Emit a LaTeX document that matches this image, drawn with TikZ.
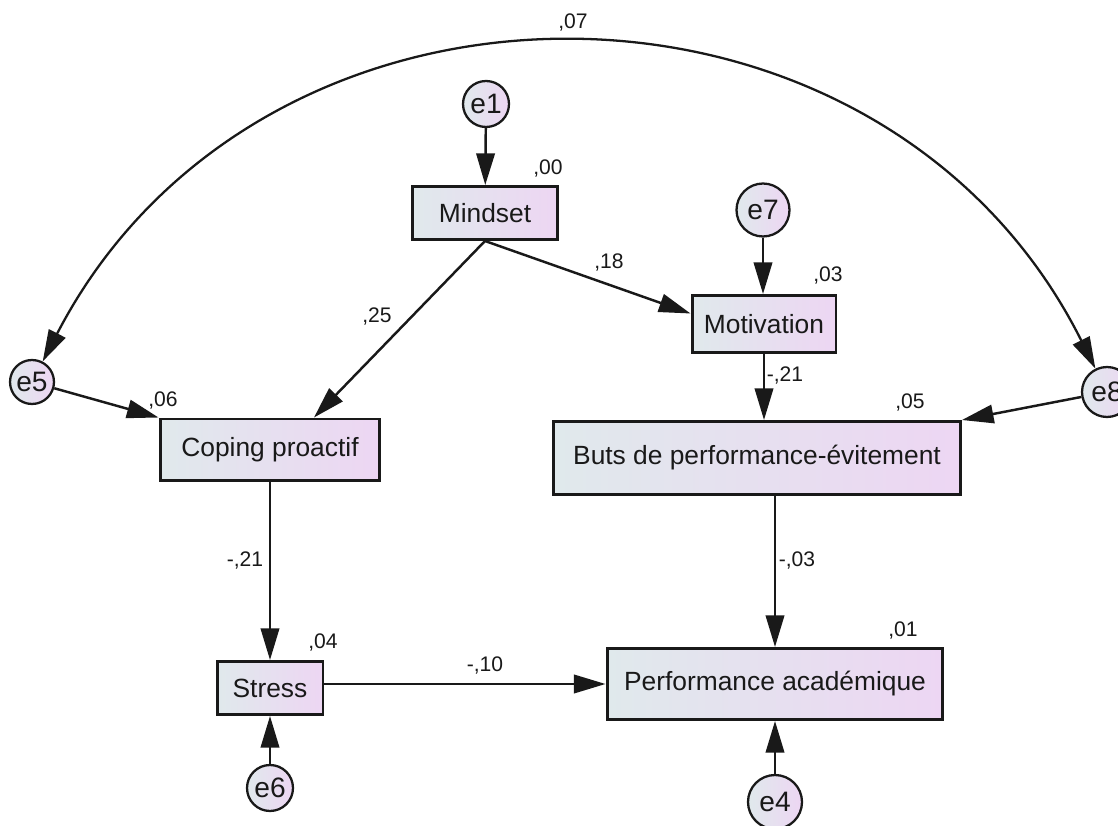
\documentclass[tikz,border=0pt]{standalone}
\usepackage{fontspec}
\setmainfont{Liberation Sans}
\usetikzlibrary{arrows.meta,calc}
\definecolor{boxl}{RGB}{224,233,236}
\definecolor{boxr}{RGB}{237,214,243}
\definecolor{ink}{RGB}{25,25,25}
\begin{document}
\begin{tikzpicture}[x=0.02cm, y=0.02cm,
  var/.style={draw=ink, line width=1.7pt, left color=boxl, right color=boxr, text=ink, inner sep=0pt, font=\fontsize{15}{18}\selectfont},
  err/.style={draw=ink, circle, line width=1.3pt, left color=boxl, right color=boxr, text=ink, inner sep=0pt, font=\fontsize{16}{18}\selectfont},
  reg/.style={-{Triangle[length=18pt,width=10.5pt]}, line width=1.4pt, ink},
  est/.style={font=\fontsize{12}{14}\selectfont, text=ink, inner sep=0pt}]

\useasboundingbox (0,0) rectangle (1118,825);

\node[err, minimum size=0.92cm] (e1) at (486,721) {e1};
\node[var, minimum width=2.9cm, minimum height=1.06cm] (mind) at (485,612) {Mindset};
\node[err, minimum size=1.06cm] (e7) at (763,615) {e7};
\node[var, minimum width=2.88cm, minimum height=1.14cm] (motiv) at (764,501) {Motivation};
\node[err, minimum size=0.88cm] (e5) at (32,443) {e5};
\node[var, minimum width=4.4cm, minimum height=1.24cm] (cope) at (270,375) {Coping proactif};
\node[err, minimum size=1.0cm] (e8) at (1107,433) {e8};
\node[var, minimum width=8.14cm, minimum height=1.46cm] (buts) at (757,367) {Buts de performance-évitement};
\node[var, minimum width=2.12cm, minimum height=1.06cm] (stress) at (270,137) {Stress};
\node[err, minimum size=0.92cm] (e6) at (270,37) {e6};
\node[var, minimum width=6.72cm, minimum height=1.42cm] (perf) at (775,141) {Performance académique};
\node[err, minimum size=1.08cm] (e4) at (775,23) {e4};

\draw[reg] (e1) -- (mind);
\draw[reg] (mind.south) -- ([xshift=0.88cm]cope.north);
\draw[reg] (mind.south) -- ([yshift=0.21cm]motiv.west);
\draw[reg] (e7) -- (e7 |- motiv.north);
\draw[reg] (motiv.south) -- (motiv.south |- buts.north);
\draw[reg] (e5) -- (cope.north west);
\draw[reg] (e8) -- (buts.north east);
\draw[reg] (cope) -- (stress);
\draw[reg] (buts.south -| perf.north) -- (perf.north);
\draw[reg] (stress.east |- perf.west) -- (perf.west);
\draw[reg] (e6) -- (stress);
\draw[reg] (e4) -- (perf);
\draw[{Triangle[length=18pt,width=10.5pt]}-{Triangle[length=18pt,width=10.5pt]}, line width=1.3pt, ink] (e5) to[bend left=63, looseness=1.16] (e8);

\node[est] (v07) at (573,803) {,07};
\node[est] (v00) at (548,657) {,00};
\node[est] (v18) at (609,563) {,18};
\node[est] (v03) at (828,550) {,03};
\node[est] (v25) at (377,509) {,25};
\node[est] (v06) at (163,425) {,06};
\node[est] (v21b) at (785,450) {-,21};
\node[est] (v05) at (910,423) {,05};
\node[est] (v21a) at (245,265) {-,21};
\node[est] (v03b) at (797,265) {-,03};
\node[est] (v04) at (323,183) {,04};
\node[est] (v10) at (485,160) {-,10};
\node[est] (v01) at (903,195) {,01};

\end{tikzpicture}
\end{document}
